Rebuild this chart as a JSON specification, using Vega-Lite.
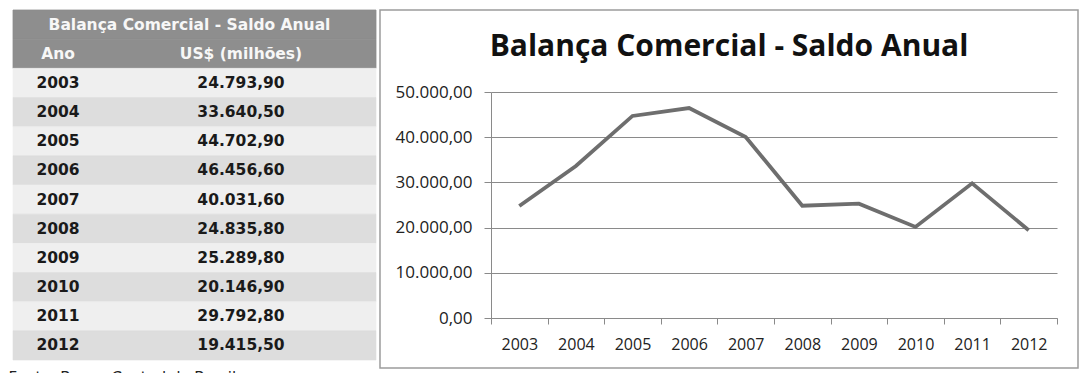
{
  "$schema": "https://vega.github.io/schema/vega-lite/v6.json",
  "padding": {"left": 8, "top": 9, "right": 0, "bottom": 0},
  "background": "white",
  "config": {
    "locale": {"number": {"decimal": ",", "thousands": ".", "grouping": [3], "currency": ["R$ ", ""]}},
    "concat": {"spacing": 2},
    "view": {"stroke": null}
  },
  "title": {"text": "Fonte: Banco Central do Brasil", "orient": "bottom", "anchor": "start", "offset": 2, "dx": -4, "font": "DejaVu Sans", "fontSize": 15, "fontWeight": "normal", "color": "#222222", "baseline": "top"},
  "datasets": {
    "saldo": [
      {"ano": 2003, "valor": 24793.9},
      {"ano": 2004, "valor": 33640.5},
      {"ano": 2005, "valor": 44702.9},
      {"ano": 2006, "valor": 46456.6},
      {"ano": 2007, "valor": 40031.6},
      {"ano": 2008, "valor": 24835.8},
      {"ano": 2009, "valor": 25289.8},
      {"ano": 2010, "valor": 20146.9},
      {"ano": 2011, "valor": 29792.8},
      {"ano": 2012, "valor": 19415.5}
    ]
  },
  "hconcat": [
    {
      "width": 363,
      "height": 350,
      "view": {"stroke": null},
      "layer": [
        {
          "data": {"values": [{"linha": "titulo"}, {"linha": "cabecalho"}]},
          "mark": {"type": "rect", "color": "#8e8e8e", "stroke": "#8e8e8e", "strokeWidth": 0.8},
          "encoding": {
            "y": {"field": "linha", "type": "ordinal", "scale": {"domain": ["titulo", "cabecalho", 2003, 2004, 2005, 2006, 2007, 2008, 2009, 2010, 2011, 2012], "paddingInner": 0, "paddingOuter": 0}, "axis": null}
          }
        },
        {
          "data": {"name": "saldo"},
          "mark": {"type": "rect", "strokeWidth": 0.6},
          "encoding": {
            "y": {"field": "ano", "type": "ordinal", "axis": null},
            "color": {"condition": {"test": "datum.ano % 2 === 1", "value": "#efefef"}, "value": "#dddddd"},
            "stroke": {"condition": {"test": "datum.ano % 2 === 1", "value": "#efefef"}, "value": "#dddddd"}
          }
        },
        {
          "data": {"values": [{"linha": "titulo", "texto": "Balança Comercial - Saldo Anual"}]},
          "mark": {"type": "text", "font": "DejaVu Sans", "fontSize": 15.5, "fontWeight": "bold", "color": "#f7f7f7", "dx": -5},
          "encoding": {
            "y": {"field": "linha", "type": "ordinal", "axis": null},
            "text": {"field": "texto"}
          }
        },
        {
          "data": {"values": [{"linha": "cabecalho", "coluna": "Ano"}, {"linha": "cabecalho", "coluna": "US$ (milhões)"}]},
          "mark": {"type": "text", "font": "DejaVu Sans", "fontSize": 15.5, "fontWeight": "bold", "color": "#f7f7f7"},
          "encoding": {
            "y": {"field": "linha", "type": "ordinal", "axis": null},
            "x": {"field": "coluna", "type": "ordinal", "scale": {"type": "point", "domain": ["Ano", "US$ (milhões)"], "range": [45, 228], "padding": 0}, "axis": null},
            "text": {"field": "coluna"}
          }
        },
        {
          "data": {"name": "saldo"},
          "mark": {"type": "text", "font": "DejaVu Sans", "fontSize": 15.5, "fontWeight": "bold", "color": "#1a1a1a"},
          "encoding": {
            "y": {"field": "ano", "type": "ordinal", "axis": null},
            "x": {"datum": "Ano", "type": "ordinal", "axis": null},
            "text": {"field": "ano", "type": "ordinal"}
          }
        },
        {
          "data": {"name": "saldo"},
          "mark": {"type": "text", "font": "DejaVu Sans", "fontSize": 15.5, "fontWeight": "bold", "color": "#1a1a1a"},
          "encoding": {
            "y": {"field": "ano", "type": "ordinal", "axis": null},
            "x": {"datum": "US$ (milhões)", "type": "ordinal", "axis": null},
            "text": {"field": "valor", "type": "quantitative", "format": ",.2f"}
          }
        }
      ]
    },
    {
      "width": 698,
      "height": 358,
      "view": {"stroke": "#9c9c9c", "strokeWidth": 1.5},
      "title": {"text": "Balança Comercial - Saldo Anual", "offset": -52, "anchor": "middle", "font": "Open Sans", "fontSize": 30, "fontWeight": "bold", "color": "#111111"},
      "data": {"name": "saldo"},
      "mark": {"type": "line", "color": "#6e6e6e", "strokeWidth": 3.8},
      "encoding": {
        "x": {
          "field": "ano", "type": "ordinal",
          "scale": {"type": "band", "range": [111, 677], "paddingInner": 0, "paddingOuter": 0},
          "axis": {"title": null, "offset": -50, "tickBand": "extent", "domainColor": "#8a8a8a", "tickColor": "#8a8a8a", "tickSize": 6, "labelPadding": 12, "labelFont": "Open Sans", "labelFontSize": 16, "labelColor": "#222222", "labelAngle": 0, "grid": false}
        },
        "y": {
          "field": "valor", "type": "quantitative",
          "scale": {"domain": [0, 50000], "range": [308, 82], "nice": false, "zero": false},
          "axis": {"title": null, "offset": -111, "values": [0, 10000, 20000, 30000, 40000, 50000], "format": ",.2f", "grid": true, "gridColor": "#8a8a8a", "gridWidth": 1, "domainColor": "#8a8a8a", "tickColor": "#8a8a8a", "tickSize": 7, "labelPadding": 12, "labelFont": "Open Sans", "labelFontSize": 17, "labelColor": "#222222"}
        }
      }
    }
  ]
}
